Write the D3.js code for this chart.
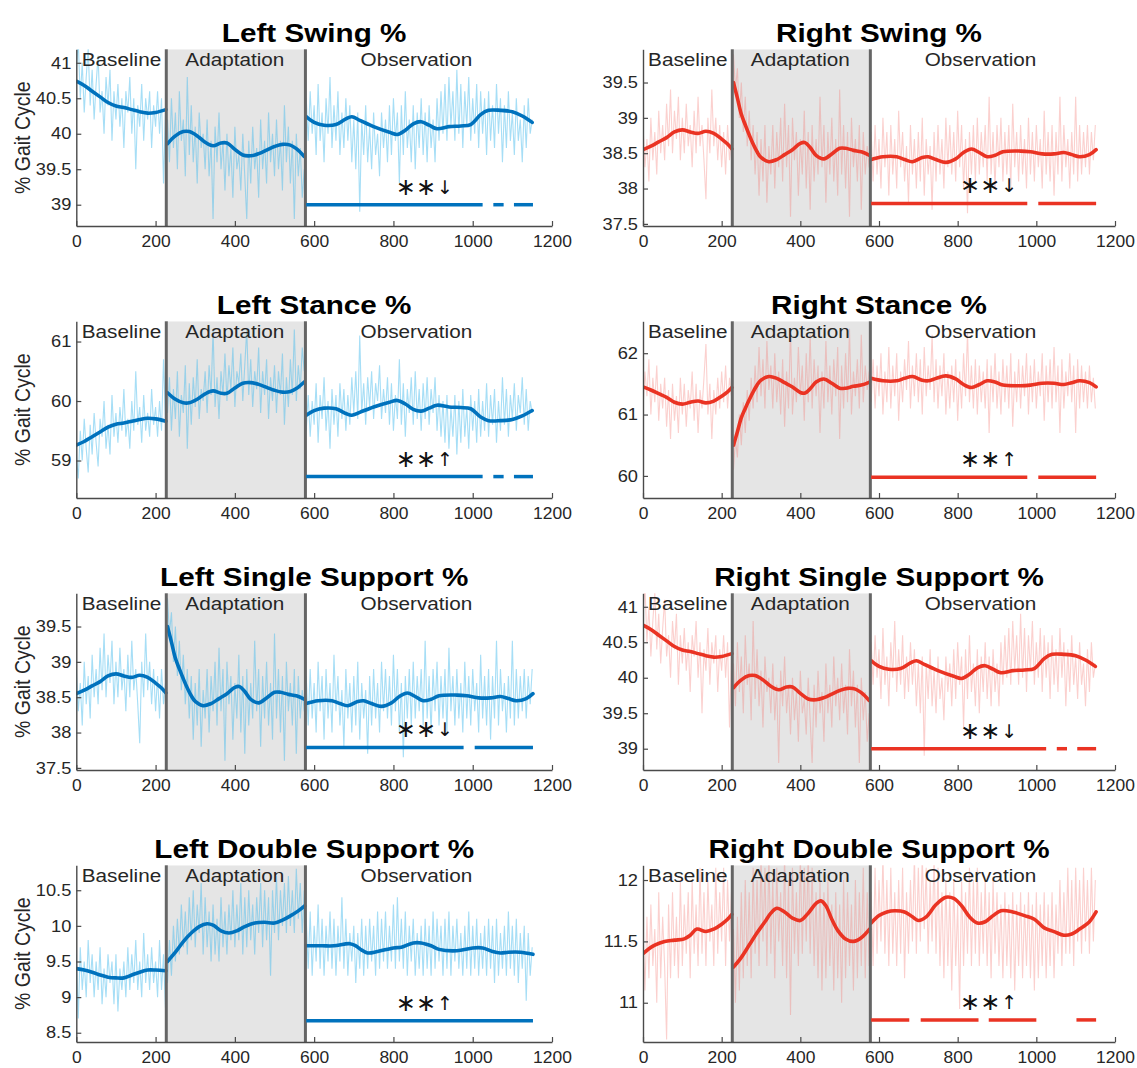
<!DOCTYPE html>
<html>
<head>
<meta charset="utf-8">
<script src="https://cdn.jsdelivr.net/npm/d3@7"></script>
<style>
  body { margin: 0; background: #fff; }
  svg { display: block; }
</style>
</head>
<body>
<svg id="chart" width="1137" height="1068"></svg>
<script>
// ---------- shared axis / phase data ----------
const xDomain = [0, 1200];
const xTicks = [0, 200, 400, 600, 800, 1000, 1200];
const phaseNames = ["Baseline", "Adaptation", "Observation"];
const phaseCenters = [114, 400, 858];
const phaseBounds = [227, 578];
const rawStarts = [0, 230, 580];
const rawStep = 5;

// ---------- Left Swing % ----------
const leftSwingRawBase = [
  40.9, 41.3, 40.5, 41.0, 40.3, 40.8, 41.2, 40.4, 40.9, 40.2,
  40.7, 41.1, 40.3, 40.6, 40.0, 40.8, 40.4, 40.9, 39.9, 40.6,
  40.2, 40.7, 40.1, 40.5, 39.8, 40.6, 40.3, 40.8, 40.0, 40.5,
  39.5, 40.4, 40.1, 40.7, 39.9, 40.5, 40.2, 40.6, 39.8, 40.4,
  40.1, 40.6, 40.0, 40.5, 39.3, 40.3];
const leftSwingRawAdapt = [
  40.2, 39.6, 40.5, 39.8, 40.3, 39.5, 40.6, 39.9, 40.2, 39.4,
  40.8, 39.7, 40.4, 39.6, 40.1, 39.3, 40.3, 39.8, 40.0, 39.5,
  40.2, 39.4, 39.9, 38.8, 40.1, 39.6, 40.3, 39.5, 39.9, 39.2,
  40.0, 39.4, 39.8, 39.1, 40.1, 39.5, 39.7, 39.2, 40.0, 39.4,
  38.8, 39.9, 39.3, 40.1, 39.5, 39.8, 39.1, 40.2, 39.5, 39.9,
  39.3, 40.3, 39.6, 40.0, 39.4, 40.2, 39.5, 39.9, 39.2, 40.4,
  39.6, 40.1, 39.3, 39.9, 38.8, 40.0, 39.4, 39.8, 39.1, 39.5];
const leftSwingRawObs = [
  40.5, 39.9, 40.6, 40.0, 40.4, 39.7, 40.7, 39.9, 40.3, 39.6,
  40.5, 40.0, 40.8, 39.8, 40.4, 39.9, 40.6, 39.7, 40.3, 39.8,
  40.5, 39.9, 40.4, 39.6, 40.2, 39.5, 40.3, 38.9, 40.2, 39.7,
  40.4, 39.6, 40.1, 39.5, 40.3, 39.7, 40.0, 39.4, 40.3, 39.8,
  40.2, 39.6, 40.4, 39.7, 40.5, 39.9, 40.3, 39.3, 40.4, 39.7,
  40.6, 39.8, 40.2, 39.6, 40.4, 39.5, 40.3, 39.8, 40.5, 39.7,
  40.3, 39.6, 40.4, 39.8, 40.2, 39.6, 40.5, 39.9, 40.6, 40.0,
  40.7, 39.9, 40.8, 40.1, 40.6, 39.9, 40.9, 40.0, 40.7, 39.8,
  40.6, 40.1, 40.8, 39.9, 40.5, 40.0, 40.7, 39.8, 40.6, 40.0,
  40.5, 39.7, 40.6, 39.9, 40.4, 39.8, 40.7, 40.0, 40.5, 39.6,
  40.4, 39.8, 40.6, 39.9, 40.3, 39.7, 40.5, 39.9, 40.2, 39.6,
  40.4, 39.8, 40.5, 40.0, 40.2];
const leftSwingTrendBase = [[0,40.74],[20,40.68],[40,40.6],[60,40.52],[80,40.44],[100,40.39],[120,40.37],[140,40.34],[160,40.31],[180,40.29],[200,40.3],[226,40.34]];
const leftSwingTrendAdapt = [[230,39.86],[250,39.97],[270,40.03],[285,40.03],[305,39.97],[325,39.88],[345,39.83],[365,39.87],[380,39.87],[400,39.78],[420,39.7],[440,39.69],[460,39.72],[480,39.77],[500,39.82],[520,39.85],[540,39.84],[555,39.79],[575,39.68]];
const leftSwingTrendObs = [[580,40.24],[600,40.16],[625,40.12],[655,40.13],[680,40.21],[695,40.24],[715,40.19],[750,40.1],[790,40.02],[810,39.99],[830,40.05],[850,40.14],[870,40.17],[890,40.12],[910,40.07],[940,40.1],[970,40.11],[995,40.13],[1020,40.27],[1040,40.33],[1070,40.33],[1100,40.31],[1125,40.25],[1150,40.16]];
const leftSwingLim = [38.7, 41.19];
const leftSwingTicks = [39, 39.5, 40, 40.5, 41];

// ---------- Right Swing % ----------
const rightSwingRawBase = [
  38.9, 38.3, 38.7, 38.1, 39.0, 38.4, 38.8, 38.2, 39.1, 38.5,
  38.9, 38.4, 39.2, 38.6, 39.4, 38.5, 39.1, 38.7, 39.3, 38.4,
  39.0, 38.5, 39.2, 38.6, 38.9, 38.3, 39.1, 38.5, 39.3, 38.6,
  38.9, 38.4, 37.85, 39.0, 38.5, 39.4, 38.6, 39.0, 38.4, 38.9,
  38.3, 38.8, 38.2, 38.9, 38.4, 38.7];
const rightSwingRawAdapt = [
  39.9, 39.4, 39.7, 39.0, 39.5, 38.8, 39.3, 38.6, 39.1, 38.4,
  38.9, 38.2, 38.8, 37.9, 38.7, 38.1, 38.9, 37.8, 38.6, 38.2,
  38.9, 38.0, 38.8, 38.3, 39.0, 38.1, 39.2, 38.3, 38.9, 37.6,
  39.0, 38.4, 38.8, 37.9, 38.7, 38.2, 39.1, 38.0, 38.8, 37.7,
  38.9, 38.1, 38.7, 38.2, 39.3, 38.3, 38.9, 37.8, 38.8, 38.2,
  39.0, 38.1, 38.7, 37.9, 39.4, 38.2, 38.9, 38.0, 38.8, 37.6,
  39.0, 38.3, 38.7, 38.1, 38.9, 37.7, 38.8, 38.2, 38.6, 38.3];
const rightSwingRawObs = [
  38.8, 38.1, 38.9, 38.2, 38.7, 38.0, 39.0, 38.3, 38.8, 37.9,
  38.9, 38.2, 38.7, 38.0, 39.1, 38.3, 38.8, 38.1, 38.6, 37.8,
  38.9, 38.2, 38.7, 38.0, 38.8, 38.1, 39.0, 37.9, 38.7, 38.2,
  38.6, 37.7, 38.8, 38.1, 38.9, 38.2, 38.7, 38.0, 39.0, 38.3,
  38.9, 38.2, 38.8, 38.1, 39.1, 38.3, 38.9, 38.0, 38.7, 37.65,
  38.8, 38.2, 38.9, 38.1, 39.0, 38.2, 38.8, 38.3, 38.9, 38.1,
  39.3, 38.2, 38.8, 38.0, 38.9, 38.3, 39.0, 38.1, 38.8, 38.2,
  38.9, 38.0, 39.2, 38.3, 38.8, 38.1, 38.9, 38.2, 38.7, 38.0,
  39.0, 38.2, 38.8, 38.1, 38.9, 38.3, 38.7, 38.0, 39.1, 38.2,
  38.8, 38.1, 38.9, 37.9, 38.8, 38.2, 39.3, 38.1, 38.9, 38.3,
  38.7, 38.0, 38.8, 38.2, 39.3, 38.1, 38.9, 38.2, 38.8, 38.3,
  38.9, 38.2, 38.8, 38.4, 38.9];
const rightSwingTrendBase = [[0,38.55],[20,38.6],[40,38.66],[60,38.72],[80,38.8],[100,38.83],[120,38.8],[140,38.78],[160,38.81],[180,38.78],[200,38.7],[215,38.63],[226,38.56]];
const rightSwingTrendAdapt = [[230,39.5],[240,39.28],[250,39.05],[260,38.9],[270,38.76],[280,38.63],[290,38.52],[300,38.44],[320,38.38],[340,38.41],[360,38.48],[380,38.55],[400,38.64],[412,38.65],[425,38.58],[440,38.47],[460,38.42],[480,38.49],[500,38.57],[515,38.57],[535,38.54],[555,38.52],[576,38.47]];
const rightSwingTrendObs = [[580,38.41],[610,38.45],[645,38.45],[665,38.41],[685,38.38],[710,38.44],[725,38.45],[745,38.41],[770,38.37],[795,38.42],[815,38.51],[835,38.56],[855,38.51],[875,38.45],[895,38.47],[915,38.52],[960,38.53],[985,38.52],[1015,38.49],[1045,38.49],[1070,38.51],[1090,38.48],[1110,38.45],[1135,38.48],[1152,38.55]];
const rightSwingLim = [37.47, 39.97];
const rightSwingTicks = [37.5, 38, 38.5, 39, 39.5];

// ---------- Left Stance % ----------
const leftStanceRawBase = [
  59.1, 58.7, 59.5, 59.0, 59.7, 59.2, 58.8, 59.6, 59.1, 59.8,
  59.3, 58.9, 59.7, 59.4, 60.0, 59.2, 59.6, 59.1, 60.1, 59.4,
  59.8, 59.3, 59.9, 59.5, 60.2, 59.4, 59.7, 59.2, 60.0, 59.5,
  60.5, 59.6, 59.9, 59.3, 60.1, 59.5, 59.8, 59.4, 60.2, 59.6,
  59.9, 59.4, 60.0, 59.5, 60.7, 59.7];
const leftStanceRawAdapt = [
  59.8, 60.4, 59.5, 60.2, 59.7, 60.5, 59.4, 60.1, 59.8, 60.6,
  59.2, 60.3, 59.6, 60.4, 59.9, 60.7, 59.7, 60.2, 60.0, 60.5,
  59.8, 60.6, 60.1, 61.2, 59.9, 60.4, 59.7, 60.5, 60.1, 60.8,
  60.0, 60.6, 60.2, 60.9, 59.9, 60.5, 60.3, 60.8, 60.0, 60.6,
  61.2, 60.1, 60.7, 59.9, 60.5, 60.2, 60.9, 59.8, 60.5, 60.1,
  60.7, 59.7, 60.4, 60.0, 60.6, 59.8, 60.5, 60.1, 60.8, 59.6,
  60.4, 59.9, 60.7, 60.1, 61.2, 60.0, 60.6, 60.2, 60.9, 60.5];
const leftStanceRawObs = [
  59.5, 60.1, 59.4, 60.0, 59.6, 60.3, 59.3, 60.1, 59.7, 60.4,
  59.5, 60.0, 59.2, 60.2, 59.6, 60.1, 59.4, 60.3, 59.7, 60.2,
  59.5, 60.1, 59.6, 60.4, 59.8, 60.5, 59.7, 61.1, 59.8, 60.3,
  59.6, 60.4, 59.9, 60.5, 59.7, 60.3, 60.0, 60.6, 59.7, 60.2,
  59.8, 60.4, 59.6, 60.3, 59.5, 60.1, 59.7, 60.7, 59.6, 60.3,
  59.4, 60.2, 59.8, 60.4, 59.6, 60.5, 59.7, 60.2, 59.5, 60.3,
  59.7, 60.4, 59.6, 60.2, 59.8, 60.4, 59.5, 60.1, 59.4, 60.0,
  59.3, 60.1, 59.2, 59.9, 59.4, 60.1, 59.1, 60.0, 59.3, 60.2,
  59.4, 59.9, 59.2, 60.1, 59.5, 60.0, 59.3, 60.2, 59.4, 60.0,
  59.5, 60.3, 59.4, 60.1, 59.6, 60.2, 59.3, 60.0, 59.5, 60.4,
  59.6, 60.2, 59.4, 60.1, 59.7, 60.3, 59.5, 60.1, 59.8, 60.4,
  59.6, 60.2, 59.5, 60.0, 59.8];
const leftStanceTrendBase = [[0,59.26],[20,59.32],[40,59.4],[60,59.48],[80,59.56],[100,59.61],[120,59.63],[140,59.66],[160,59.69],[180,59.71],[200,59.7],[226,59.66]];
const leftStanceTrendAdapt = [[230,60.14],[250,60.03],[270,59.97],[285,59.97],[305,60.03],[325,60.12],[345,60.17],[365,60.13],[380,60.13],[400,60.22],[420,60.3],[440,60.31],[460,60.28],[480,60.23],[500,60.18],[520,60.15],[540,60.16],[555,60.21],[575,60.32]];
const leftStanceTrendObs = [[580,59.76],[600,59.84],[625,59.88],[655,59.87],[680,59.79],[695,59.76],[715,59.81],[750,59.9],[790,59.98],[810,60.01],[830,59.95],[850,59.86],[870,59.83],[890,59.88],[910,59.93],[940,59.9],[970,59.89],[995,59.87],[1020,59.73],[1040,59.67],[1070,59.67],[1100,59.69],[1125,59.75],[1150,59.84]];
const leftStanceLim = [58.37, 61.34];
const leftStanceTicks = [59, 60, 61];

// ---------- Right Stance % ----------
const rightStanceRawBase = [
  61.1, 61.7, 61.3, 61.9, 61.0, 61.6, 61.2, 61.8, 60.9, 61.5,
  61.1, 61.6, 60.8, 61.4, 60.6, 61.5, 60.9, 61.3, 60.7, 61.6,
  61.0, 61.5, 60.8, 61.4, 61.1, 61.7, 60.9, 61.5, 60.7, 61.4,
  61.1, 61.6, 62.15, 61.0, 61.5, 60.6, 61.4, 61.0, 61.6, 61.1,
  61.7, 61.2, 61.8, 61.1, 61.6, 61.3];
const rightStanceRawAdapt = [
  60.1, 60.6, 60.3, 61.0, 60.5, 61.2, 60.7, 61.4, 60.9, 61.6,
  61.1, 61.8, 61.2, 62.1, 61.3, 61.9, 61.1, 62.2, 61.4, 61.8,
  61.1, 62.0, 61.2, 61.7, 61.0, 61.9, 60.8, 61.7, 61.1, 62.4,
  61.0, 61.6, 61.2, 62.1, 61.3, 61.8, 60.9, 62.0, 61.2, 62.3,
  61.1, 61.9, 61.3, 61.8, 60.7, 61.7, 61.1, 62.2, 61.2, 61.8,
  61.0, 61.9, 61.3, 62.1, 60.6, 61.8, 61.1, 62.0, 61.2, 62.4,
  61.0, 61.7, 61.3, 61.9, 61.1, 62.3, 61.2, 61.8, 61.4, 61.7];
const rightStanceRawObs = [
  61.2, 61.9, 61.1, 61.8, 61.3, 62.0, 61.0, 61.7, 61.2, 62.1,
  61.1, 61.8, 61.3, 62.0, 60.9, 61.7, 61.2, 61.9, 61.4, 62.2,
  61.1, 61.8, 61.3, 62.0, 61.2, 61.9, 61.0, 62.1, 61.3, 61.8,
  61.4, 62.3, 61.2, 61.9, 61.1, 61.8, 61.3, 62.0, 61.0, 61.7,
  61.1, 61.8, 61.2, 61.9, 60.9, 61.7, 61.1, 62.0, 61.3, 62.35,
  61.2, 61.8, 61.1, 61.9, 61.0, 61.8, 61.2, 61.7, 61.1, 61.9,
  60.7, 61.8, 61.2, 62.0, 61.1, 61.7, 61.0, 61.9, 61.2, 61.8,
  61.1, 62.0, 60.8, 61.7, 61.2, 61.9, 61.1, 61.8, 61.3, 62.0,
  61.0, 61.8, 61.2, 61.9, 61.1, 61.7, 61.3, 62.0, 60.9, 61.8,
  61.2, 61.9, 61.1, 62.1, 61.2, 61.8, 60.7, 61.9, 61.1, 61.7,
  61.3, 62.0, 61.2, 61.8, 60.7, 61.9, 61.1, 61.8, 61.2, 61.7,
  61.1, 61.8, 61.2, 61.6, 61.1];
const rightStanceTrendBase = [[0,61.45],[20,61.4],[40,61.34],[60,61.28],[80,61.2],[100,61.17],[120,61.2],[140,61.22],[160,61.19],[180,61.22],[200,61.3],[215,61.37],[226,61.44]];
const rightStanceTrendAdapt = [[230,60.5],[240,60.72],[250,60.95],[260,61.1],[270,61.24],[280,61.37],[290,61.48],[300,61.56],[320,61.62],[340,61.59],[360,61.52],[380,61.45],[400,61.36],[412,61.35],[425,61.42],[440,61.53],[460,61.58],[480,61.51],[500,61.43],[515,61.43],[535,61.46],[555,61.48],[576,61.53]];
const rightStanceTrendObs = [[580,61.59],[610,61.55],[645,61.55],[665,61.59],[685,61.62],[710,61.56],[725,61.55],[745,61.59],[770,61.63],[795,61.58],[815,61.49],[835,61.44],[855,61.49],[875,61.55],[895,61.53],[915,61.48],[960,61.47],[985,61.48],[1015,61.51],[1045,61.51],[1070,61.49],[1090,61.52],[1110,61.55],[1135,61.52],[1152,61.45]];
const rightStanceLim = [59.64, 62.52];
const rightStanceTicks = [60, 61, 62];

// ---------- Left Double Support % ----------
const leftDoubleRawBase = [
  9.6, 8.7, 9.7, 9.1, 9.5, 9.0, 9.8, 9.2, 9.6, 9.0,
  9.5, 9.1, 9.7, 8.9, 9.4, 9.0, 9.6, 9.2, 9.5, 8.9,
  9.6, 8.8, 9.4, 9.1, 9.5, 9.0, 9.7, 9.1, 9.6, 9.2,
  9.8, 9.1, 9.5, 9.0, 9.9, 9.2, 9.6, 9.1, 9.7, 9.2,
  9.5, 9.0, 9.8, 9.1, 9.6, 8.85];
const leftDoubleRawAdapt = [
  9.2, 9.8, 9.3, 10.0, 9.5, 10.1, 9.6, 10.3, 9.7, 10.2,
  9.6, 10.4, 9.8, 10.5, 9.7, 10.3, 9.9, 10.6, 9.6, 10.4,
  9.7, 10.2, 9.5, 10.3, 9.6, 10.1, 9.5, 10.4, 9.7, 10.2,
  9.6, 10.3, 9.8, 10.5, 9.7, 10.3, 9.8, 10.6, 9.6, 10.4,
  9.7, 10.5, 9.8, 10.3, 9.6, 10.4, 9.9, 10.6, 9.7, 10.5,
  9.8, 10.4, 9.3, 10.5, 9.9, 10.7, 9.8, 10.5, 10.0, 10.6,
  9.9, 10.7, 10.0, 10.5, 9.9, 10.8, 10.1, 10.6, 9.9, 10.5];
const leftDoubleRawObs = [
  10.1, 9.4, 10.2, 9.3, 10.0, 9.5, 10.3, 9.4, 10.1, 9.3,
  10.0, 9.5, 10.2, 9.4, 10.1, 9.3, 10.0, 9.5, 10.4, 9.4,
  10.1, 9.3, 9.9, 9.5, 10.0, 9.2, 9.9, 9.4, 10.1, 9.3,
  10.0, 9.4, 10.1, 9.5, 10.0, 9.3, 10.2, 9.4, 10.1, 9.5,
  10.2, 9.4, 10.0, 9.5, 10.3, 9.4, 10.4, 9.5, 10.1, 9.4,
  10.2, 9.3, 10.0, 9.5, 10.1, 9.3, 9.9, 9.4, 10.0, 9.3,
  10.1, 9.4, 10.0, 9.3, 10.2, 9.4, 10.1, 9.5, 10.0, 9.3,
  10.1, 9.4, 10.2, 9.3, 10.0, 9.5, 10.1, 9.4, 9.9, 9.3,
  10.0, 9.4, 10.2, 9.3, 10.0, 9.4, 10.1, 9.3, 9.9, 9.4,
  10.0, 9.3, 10.1, 9.4, 10.0, 9.2, 10.1, 9.3, 9.9, 9.4,
  10.0, 9.3, 10.2, 9.4, 10.0, 9.3, 10.1, 9.2, 9.9, 9.4,
  10.0, 8.95, 9.9, 9.3, 9.7];
const leftDoubleTrendBase = [[0,9.4],[20,9.38],[40,9.35],[60,9.31],[80,9.28],[100,9.27],[120,9.27],[140,9.31],[160,9.35],[180,9.38],[200,9.38],[226,9.37]];
const leftDoubleTrendAdapt = [[230,9.5],[250,9.63],[270,9.78],[290,9.9],[310,9.99],[330,10.03],[345,10.01],[365,9.93],[385,9.9],[405,9.93],[425,9.99],[450,10.04],[475,10.05],[500,10.04],[520,10.08],[540,10.14],[560,10.21],[576,10.28]];
const leftDoubleTrendObs = [[580,9.72],[620,9.72],[650,9.72],[690,9.75],[705,9.72],[720,9.66],[735,9.62],[760,9.64],[800,9.69],[820,9.7],[850,9.76],[870,9.76],[895,9.72],[915,9.67],[960,9.65],[1000,9.69],[1025,9.69],[1050,9.64],[1070,9.62],[1090,9.63],[1120,9.63],[1152,9.6]];
const leftDoubleLim = [8.37, 10.85];
const leftDoubleTicks = [8.5, 9, 9.5, 10, 10.5];

// ---------- Right Double Support % ----------
const rightDoubleRawBase = [
  11.6, 11.1, 11.7, 11.2, 11.8, 11.3, 11.6, 11.0, 11.9, 11.2,
  11.7, 11.3, 10.7, 11.8, 11.2, 11.9, 11.3, 11.7, 11.2, 12.0,
  11.3, 11.8, 11.4, 11.9, 11.2, 12.0, 11.4, 11.8, 11.3, 12.1,
  11.4, 11.9, 11.3, 12.0, 11.5, 11.8, 11.3, 12.1, 11.4, 11.9,
  11.5, 12.1, 11.3, 12.0, 11.5, 11.9];
const rightDoubleRawAdapt = [
  11.6, 11.0, 11.7, 11.1, 11.9, 11.2, 12.0, 11.3, 11.9, 11.2,
  12.1, 11.4, 12.0, 11.3, 12.2, 11.5, 12.1, 11.3, 12.2, 11.4,
  12.0, 11.2, 12.1, 11.5, 11.9, 11.3, 12.2, 11.2, 12.0, 10.9,
  12.1, 11.4, 11.9, 11.3, 12.2, 11.4, 12.1, 11.5, 12.2, 11.4,
  12.1, 11.3, 11.9, 11.2, 12.0, 11.1, 11.9, 11.2, 12.0, 11.3,
  11.8, 11.1, 11.9, 11.2, 11.8, 11.0, 12.0, 11.2, 11.9, 11.3,
  11.8, 11.1, 12.0, 11.2, 11.9, 11.3, 12.1, 11.2, 11.9, 11.3];
const rightDoubleRawObs = [
  11.9, 11.3, 12.1, 11.4, 12.0, 11.5, 12.2, 11.4, 12.0, 11.3,
  12.1, 11.4, 11.9, 11.3, 12.0, 11.4, 12.1, 11.2, 11.9, 11.4,
  12.0, 11.5, 12.2, 11.4, 12.1, 11.5, 12.2, 11.6, 12.1, 11.4,
  12.0, 11.5, 12.2, 11.4, 12.1, 11.3, 11.9, 11.2, 12.0, 11.3,
  11.9, 11.1, 12.0, 11.3, 11.8, 10.95, 12.0, 11.3, 11.9, 11.4,
  12.1, 11.3, 12.0, 11.4, 12.1, 11.3, 11.9, 11.4, 12.0, 11.3,
  11.9, 11.2, 12.0, 11.4, 11.9, 11.3, 11.8, 11.2, 11.9, 11.3,
  11.8, 11.2, 11.9, 11.1, 11.8, 11.3, 11.9, 11.2, 11.8, 11.3,
  11.9, 11.2, 11.8, 11.1, 11.9, 11.2, 11.8, 11.3, 11.9, 11.2,
  11.8, 11.3, 11.9, 11.2, 11.8, 11.4, 12.0, 11.3, 11.9, 11.4,
  12.1, 11.4, 12.0, 11.3, 12.1, 11.5, 12.0, 11.4, 12.1, 11.5,
  12.0, 11.4, 12.1, 11.5, 12.0];
const rightDoubleTrendBase = [[0,11.4],[15,11.44],[30,11.47],[55,11.5],[80,11.51],[105,11.52],[120,11.55],[137,11.6],[160,11.58],[180,11.6],[200,11.64],[215,11.68],[226,11.72]];
const rightDoubleTrendAdapt = [[230,11.29],[250,11.37],[270,11.47],[290,11.57],[310,11.66],[325,11.73],[340,11.77],[360,11.74],[380,11.69],[400,11.67],[420,11.73],[440,11.81],[452,11.83],[465,11.79],[480,11.68],[495,11.59],[515,11.52],[535,11.5],[555,11.53],[576,11.6]];
const rightDoubleTrendObs = [[580,11.65],[600,11.71],[620,11.74],[640,11.75],[665,11.74],[685,11.7],[700,11.67],[720,11.7],[745,11.8],[770,11.86],[790,11.85],[810,11.79],[830,11.7],[850,11.65],[870,11.66],[890,11.71],[910,11.75],[940,11.74],[970,11.71],[995,11.68],[1020,11.61],[1045,11.58],[1070,11.55],[1090,11.56],[1110,11.6],[1135,11.66],[1152,11.74]];
const rightDoubleLim = [10.68, 12.12];
const rightDoubleTicks = [11, 11.5, 12];

// ---------- significance (post-hoc) bars ----------
const sigSegsA = [[580, 1025], [1052, 1078], [1104, 1152]];
const sigSegsB = [[580, 977], [1005, 1152]];
const sigSegsLeftDouble = [[580, 1152]];
const sigSegsRightDouble = [[580, 677], [706, 853], [879, 1000], [1102, 1152]];

// ---------- styling ----------
const palette = {
  blue: { trend: "#0072BD", raw: "#4DBEEE", rawOpacity: 0.5 },
  red:  { trend: "#EA3323", raw: "#F2766E", rawOpacity: 0.34 }
};
const TEXT_STRETCH = 1.12;
const TICK_STRETCH = 1.07;
const FONT = "'Liberation Sans', Arial, Helvetica, sans-serif";
const colRange = [[76.3, 552], [643, 1115]];
const rowTop0 = 49.3, rowHeight = 176.7, rowPitch = 272;

// ---------- panel table ----------
const panels = [
  { title: "Left Swing %", col: 0, row: 0, color: "blue",
    raw: [leftSwingRawBase, leftSwingRawAdapt, leftSwingRawObs],
    trend: [leftSwingTrendBase, leftSwingTrendAdapt, leftSwingTrendObs],
    lim: leftSwingLim, ticks: leftSwingTicks, sigY: 39.0, sig: sigSegsA, arrow: "↓" },
  { title: "Right Swing %", col: 1, row: 0, color: "red",
    raw: [rightSwingRawBase, rightSwingRawAdapt, rightSwingRawObs],
    trend: [rightSwingTrendBase, rightSwingTrendAdapt, rightSwingTrendObs],
    lim: rightSwingLim, ticks: rightSwingTicks, sigY: 37.79, sig: sigSegsB, arrow: "↓" },
  { title: "Left Stance %", col: 0, row: 1, color: "blue",
    raw: [leftStanceRawBase, leftStanceRawAdapt, leftStanceRawObs],
    trend: [leftStanceTrendBase, leftStanceTrendAdapt, leftStanceTrendObs],
    lim: leftStanceLim, ticks: leftStanceTicks, sigY: 58.73, sig: sigSegsA, arrow: "↑" },
  { title: "Right Stance %", col: 1, row: 1, color: "red",
    raw: [rightStanceRawBase, rightStanceRawAdapt, rightStanceRawObs],
    trend: [rightStanceTrendBase, rightStanceTrendAdapt, rightStanceTrendObs],
    lim: rightStanceLim, ticks: rightStanceTicks, sigY: 59.98, sig: sigSegsB, arrow: "↑" },
  // single support on one side is the swing phase of the other side
  { title: "Left Single Support %", col: 0, row: 2, color: "blue",
    raw: [rightSwingRawBase, rightSwingRawAdapt, rightSwingRawObs],
    trend: [rightSwingTrendBase, rightSwingTrendAdapt, rightSwingTrendObs],
    lim: rightSwingLim, ticks: rightSwingTicks, sigY: 37.79, sig: sigSegsB, arrow: "↓" },
  { title: "Right Single Support %", col: 1, row: 2, color: "red",
    raw: [leftSwingRawBase, leftSwingRawAdapt, leftSwingRawObs],
    trend: [leftSwingTrendBase, leftSwingTrendAdapt, leftSwingTrendObs],
    lim: leftSwingLim, ticks: leftSwingTicks, sigY: 39.0, sig: sigSegsA, arrow: "↓" },
  { title: "Left Double Support %", col: 0, row: 3, color: "blue",
    raw: [leftDoubleRawBase, leftDoubleRawAdapt, leftDoubleRawObs],
    trend: [leftDoubleTrendBase, leftDoubleTrendAdapt, leftDoubleTrendObs],
    lim: leftDoubleLim, ticks: leftDoubleTicks, sigY: 8.67, sig: sigSegsLeftDouble, arrow: "↑" },
  { title: "Right Double Support %", col: 1, row: 3, color: "red",
    raw: [rightDoubleRawBase, rightDoubleRawAdapt, rightDoubleRawObs],
    trend: [rightDoubleTrendBase, rightDoubleTrendAdapt, rightDoubleTrendObs],
    lim: rightDoubleLim, ticks: rightDoubleTicks, sigY: 10.86, sig: sigSegsRightDouble, arrow: "↑" }
];

const svg = d3.select("#chart");
const defs = svg.append("defs");

// horizontally widen a text element about its anchor point
function widen(sel, k) {
  sel.each(function () {
    const t = d3.select(this);
    const x = +t.attr("x") || 0;
    t.attr("transform", `translate(${x},0) scale(${k},1) translate(${-x},0)`);
  });
}

panels.forEach((p, i) => {
  const [x0, x1] = colRange[p.col];
  const top = rowTop0 + p.row * rowPitch;
  const bottom = top + rowHeight;
  const x = d3.scaleLinear().domain(xDomain).range([x0, x1]);
  const y = d3.scaleLinear().domain(p.lim).range([bottom, top]);
  const col = palette[p.color];

  defs.append("clipPath").attr("id", "clip" + i)
    .append("rect").attr("x", x0).attr("y", top).attr("width", x1 - x0).attr("height", rowHeight);

  const g = svg.append("g");
  const plot = g.append("g").attr("clip-path", `url(#clip${i})`);

  // adaptation block
  plot.append("rect")
    .attr("x", x(phaseBounds[0])).attr("y", top)
    .attr("width", x(phaseBounds[1]) - x(phaseBounds[0])).attr("height", rowHeight)
    .attr("fill", "#e5e5e5");

  // stride-by-stride values
  const rawLine = d3.line().x(d => x(d[0])).y(d => y(d[1]));
  p.raw.forEach((arr, k) => {
    const pts = arr.map((v, j) => [rawStarts[k] + j * rawStep, v]);
    plot.append("path").attr("d", rawLine(pts))
      .attr("fill", "none").attr("stroke", col.raw)
      .attr("stroke-opacity", col.rawOpacity).attr("stroke-width", 1.1);
  });

  // smoothed trend
  const trendLine = d3.line().x(d => x(d[0])).y(d => y(d[1])).curve(d3.curveCatmullRom.alpha(0.5));
  p.trend.forEach(arr => {
    plot.append("path").attr("d", trendLine(arr))
      .attr("fill", "none").attr("stroke", col.trend)
      .attr("stroke-width", 3.6).attr("stroke-linejoin", "round").attr("stroke-linecap", "round");
  });

  // phase dividers
  phaseBounds.forEach(b => {
    g.append("line").attr("x1", x(b)).attr("x2", x(b)).attr("y1", top).attr("y2", bottom)
      .attr("stroke", "#656565").attr("stroke-width", 3);
  });

  // phase names
  phaseNames.forEach((name, k) => {
    g.append("text").attr("x", x(phaseCenters[k])).attr("y", top + 16.5)
      .attr("text-anchor", "middle").attr("font-family", FONT).attr("font-size", 18.5)
      .attr("fill", "#262626").text(name).call(widen, TEXT_STRETCH);
  });

  // significance bars
  p.sig.forEach(s => {
    g.append("line").attr("x1", x(s[0])).attr("x2", x(s[1]))
      .attr("y1", y(p.sigY)).attr("y2", y(p.sigY))
      .attr("stroke", col.trend).attr("stroke-width", 3.5);
  });
  const star = g.append("text").attr("x", x(806)).attr("y", y(p.sigY) - 10)
    .attr("font-family", "'DejaVu Sans', sans-serif").attr("font-size", 24).attr("fill", "#111");
  star.append("tspan").text("∗∗");
  star.append("tspan").attr("font-size", 19).attr("dx", 1).attr("dy", -1).text(p.arrow);

  // axes (ticks point inward, no box)
  const xAxis = d3.axisBottom(x).tickValues(xTicks).tickSize(-5).tickSizeOuter(0).tickPadding(9)
    .tickFormat(d3.format("d"));
  const yAxis = d3.axisLeft(y).tickValues(p.ticks).tickSize(-5).tickSizeOuter(0).tickPadding(5)
    .tickFormat(d => String(d));
  const gx = g.append("g").attr("transform", `translate(0,${bottom})`).call(xAxis);
  const gy = g.append("g").attr("transform", `translate(${x0},0)`).call(yAxis);
  [gx, gy].forEach(ax => {
    ax.select(".domain").attr("stroke", "#4a4a4a").attr("stroke-width", 1.4);
    ax.selectAll(".tick line").attr("stroke", "#4a4a4a").attr("stroke-width", 1.2);
    ax.selectAll(".tick text").attr("font-family", FONT).attr("font-size", 16.3).attr("fill", "#262626");
  });
  gx.selectAll(".tick text").call(widen, TICK_STRETCH);
  gy.selectAll(".tick text").call(widen, TEXT_STRETCH);

  // title
  g.append("text").attr("x", (x0 + x1) / 2).attr("y", top - 7.5)
    .attr("text-anchor", "middle").attr("font-family", FONT).attr("font-weight", "bold")
    .attr("font-size", 26.5).attr("fill", "#000").text(p.title).call(widen, TEXT_STRETCH);

  // y label on the left column
  if (p.col === 0) {
    const cy = (top + bottom) / 2;
    g.append("text")
      .attr("transform", `translate(30,${cy}) scale(${TEXT_STRETCH},1) rotate(-90)`)
      .attr("text-anchor", "middle").attr("font-family", FONT).attr("font-size", 19.5)
      .attr("fill", "#262626").text("% Gait Cycle");
  }
});
</script>
</body>
</html>
